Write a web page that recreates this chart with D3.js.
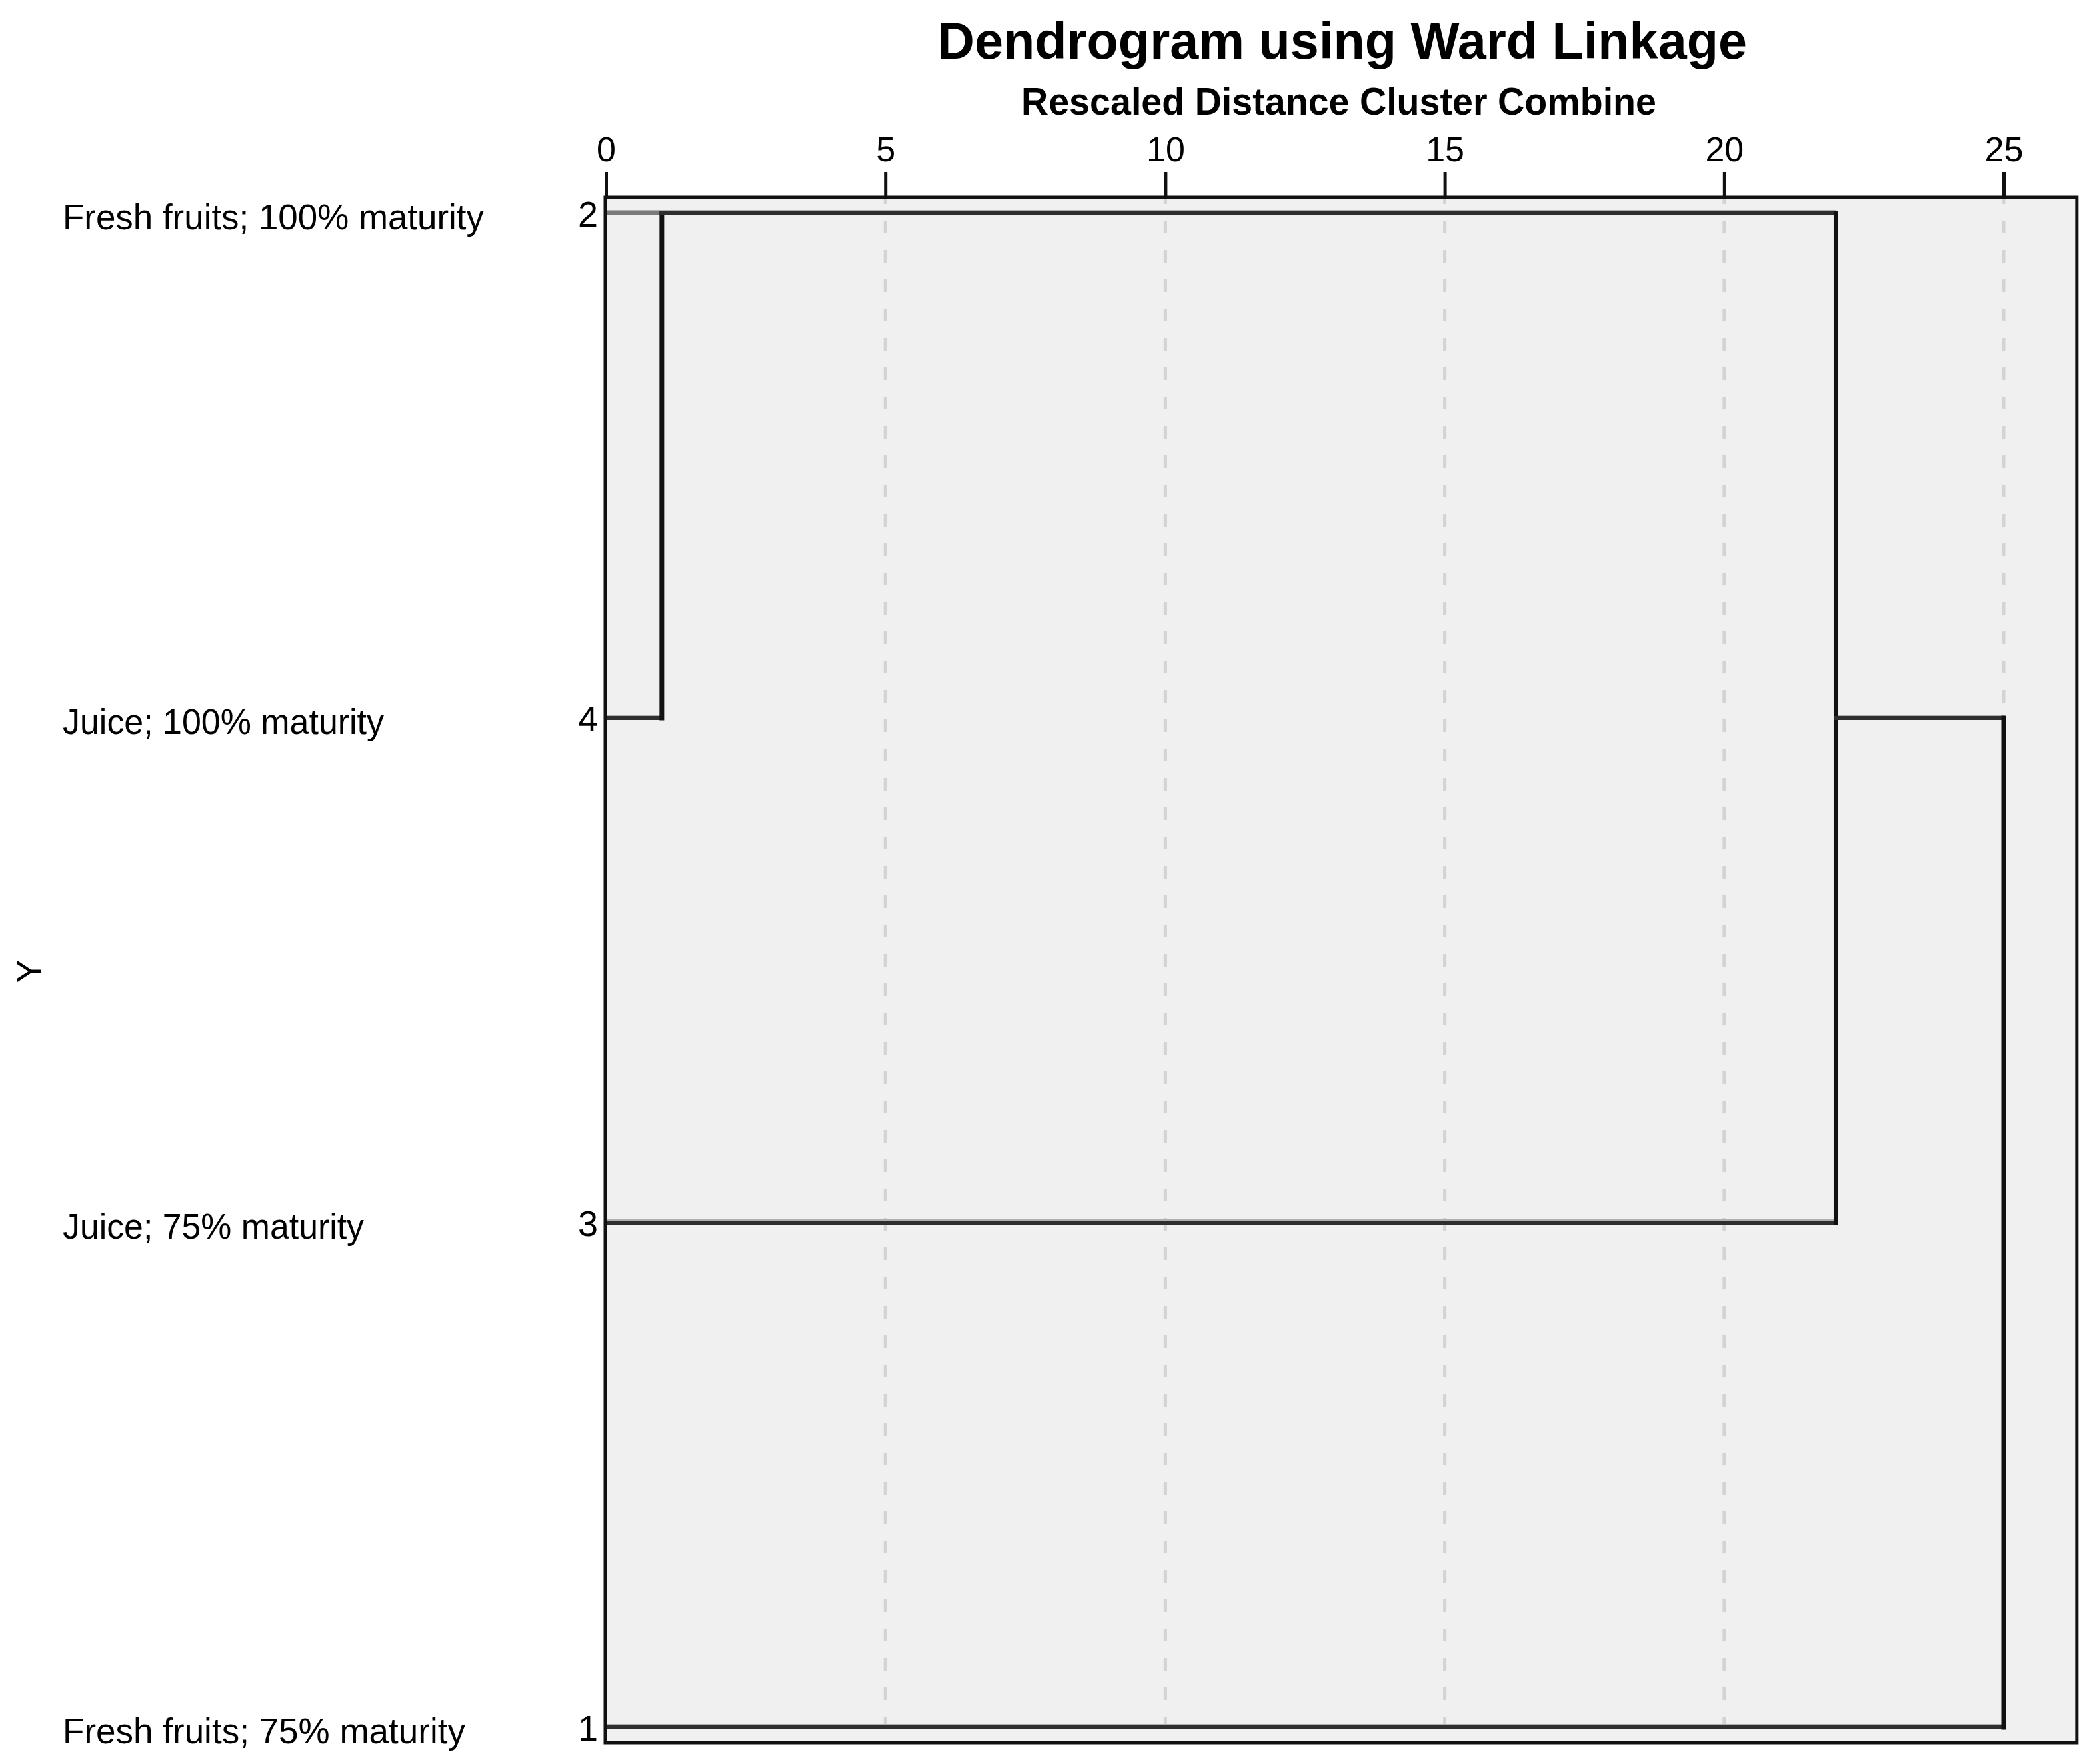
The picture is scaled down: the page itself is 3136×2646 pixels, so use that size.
<!DOCTYPE html>
<html>
<head>
<meta charset="utf-8">
<script src="https://cdn.jsdelivr.net/npm/d3@7"></script>
<style>
  html, body { margin: 0; padding: 0; background: #ffffff; }
  svg text { font-family: "Liberation Sans", Arial, "DejaVu Sans", sans-serif; fill: #000; }
</style>
</head>
<body>
<svg id="chart" width="3136" height="2646"></svg>
<script>
// ---------- data ----------
const leafIds    = ["2", "4", "3", "1"];
const leafLabels = ["Fresh fruits; 100% maturity", "Juice; 100% maturity", "Juice; 75% maturity", "Fresh fruits; 75% maturity"];
// merges (agglomeration schedule): cluster "C1" = 2+4 at 1, "C2" = C1+3 at 22, "C3" = C2+1 at 25
const mergeFirst  = ["2", "C1", "C2"];
const mergeSecond = ["4", "3", "1"];
const mergeDist   = [1, 22, 25];
const xTicks      = [0, 5, 10, 15, 20, 25];
const xAxisMax    = 26.31;
const titleText    = "Dendrogram using Ward Linkage";
const subtitleText = "Rescaled Distance Cluster Combine";
const yTitleText   = "Y";

// ---------- layout ----------
const svg = d3.select("#chart");
const x = d3.scaleLinear().domain([0, 25]).range([909, 3005]);
const y = d3.scalePoint().domain(leafIds).range([320, 2591]);
const plotTop = 296, plotBottom = 2614;

// plot background
svg.append("rect")
  .attr("x", x(0)).attr("y", plotTop)
  .attr("width", x(xAxisMax) - x(0)).attr("height", plotBottom - plotTop)
  .attr("fill", "#f0f0f0");

// dashed gridlines
svg.append("g").selectAll("line").data(xTicks.filter(d => d > 0)).join("line")
  .attr("x1", d => x(d)).attr("x2", d => x(d))
  .attr("y1", plotTop).attr("y2", plotBottom)
  .attr("stroke", "#d3d3d3").attr("stroke-width", 5)
  .attr("stroke-dasharray", "19,25").attr("stroke-dashoffset", 9);

// top axis with ticks
const axis = d3.axisTop(x).tickValues(xTicks).tickSize(38).tickPadding(16).tickFormat(d3.format("d"));
const gAxis = svg.append("g").attr("transform", `translate(0,${plotTop})`).call(axis);
gAxis.select(".domain").remove();
gAxis.selectAll(".tick line").attr("stroke", "#111").attr("stroke-width", 5);
gAxis.selectAll(".tick text").attr("font-size", 52).attr("fill", "#000")
  .style("font-family", "'Liberation Sans', Arial, sans-serif");

// ---------- dendrogram from merges ----------
const clusters = {};
leafIds.forEach(id => { clusters[id] = { leaves: [id], x: 0 }; });
const clusterY = c => {
  // SPSS places a cluster's outgoing line at its (lower) median leaf
  const pos = c.leaves.map(l => leafIds.indexOf(l)).sort((a, b) => a - b);
  return y(leafIds[pos[Math.floor((pos.length - 1) / 2)]]);
};
const segs = [];
mergeDist.forEach((d, i) => {
  const a = clusters[mergeFirst[i]], b = clusters[mergeSecond[i]];
  const ya = clusterY(a), yb = clusterY(b);
  segs.push({ x1: x(a.x), y1: ya, x2: x(d), y2: ya, grey: a.x === 0 && i === 0 });
  segs.push({ x1: x(b.x), y1: yb, x2: x(d), y2: yb, grey: false });
  segs.push({ x1: x(d), y1: ya, x2: x(d), y2: yb, grey: false, v: true });
  clusters["C" + (i + 1)] = { leaves: a.leaves.concat(b.leaves), x: d };
});

const gD = svg.append("g");
// light shadow under horizontals
gD.selectAll("line.sh").data(segs.filter(s => !s.v)).join("line")
  .attr("class", "sh")
  .attr("x1", s => s.x1).attr("x2", s => s.x2)
  .attr("y1", s => s.y1 - 3).attr("y2", s => s.y2 - 3)
  .attr("stroke", "#b0b0b0").attr("stroke-width", 4);
gD.selectAll("line.seg").data(segs).join("line")
  .attr("class", "seg")
  .attr("x1", s => s.x1).attr("x2", s => s.x2)
  .attr("y1", s => s.y1).attr("y2", s => s.y2)
  .attr("stroke", s => s.grey ? "#7a7a7a" : (s.v ? "#111" : "#2e2e2e"))
  .attr("stroke-width", s => s.v ? 7 : 6)
  .attr("stroke-linecap", "square");

// plot frame
svg.append("rect")
  .attr("x", x(0) - 1).attr("y", plotTop)
  .attr("width", x(xAxisMax) - x(0) + 1).attr("height", plotBottom - plotTop)
  .attr("fill", "none").attr("stroke", "#111").attr("stroke-width", 5);

// leaf numbers
svg.append("g").selectAll("text").data(leafIds).join("text")
  .attr("x", 897).attr("y", d => y(d) + 20)
  .attr("text-anchor", "end").attr("font-size", 54)
  .text(d => d);

// leaf labels
const labelWidths = [632, 482, 452, 604];
svg.append("g").selectAll("text").data(leafLabels).join("text")
  .attr("x", 94).attr("y", (d, i) => y(leafIds[i]) + 24)
  .attr("font-size", 54)
  .attr("textLength", (d, i) => labelWidths[i]).attr("lengthAdjust", "spacingAndGlyphs")
  .text(d => d);

// titles
svg.append("text").attr("x", 2013).attr("y", 88).attr("text-anchor", "middle")
  .attr("font-size", 78).attr("font-weight", "bold")
  .attr("textLength", 1214).attr("lengthAdjust", "spacingAndGlyphs")
  .text(titleText);
svg.append("text").attr("x", 2008).attr("y", 172).attr("text-anchor", "middle")
  .attr("font-size", 58).attr("font-weight", "bold")
  .attr("textLength", 952).attr("lengthAdjust", "spacingAndGlyphs")
  .text(subtitleText);

// y axis title
svg.append("text").attr("transform", "translate(62,1457) rotate(-90)")
  .attr("text-anchor", "middle").attr("font-size", 54)
  .text(yTitleText);
</script>
</body>
</html>
